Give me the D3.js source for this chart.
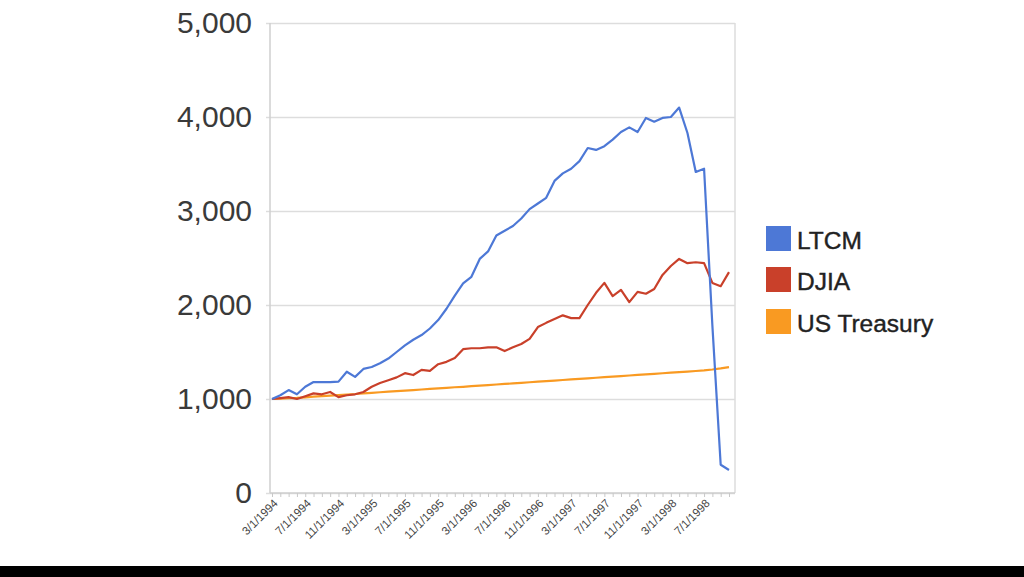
<!DOCTYPE html>
<html>
<head>
<meta charset="utf-8">
<script src="https://cdn.jsdelivr.net/npm/d3@7"></script>
<style>
  html, body { margin: 0; padding: 0; background: #ffffff; }
  svg { display: block; }
</style>
</head>
<body>
<svg id="chart" width="1024" height="577"></svg>
<script>
// ---- Data ----
const months = [
  "3/1/1994","4/1/1994","5/1/1994","6/1/1994","7/1/1994","8/1/1994","9/1/1994","10/1/1994","11/1/1994","12/1/1994",
  "1/1/1995","2/1/1995","3/1/1995","4/1/1995","5/1/1995","6/1/1995","7/1/1995","8/1/1995","9/1/1995","10/1/1995","11/1/1995","12/1/1995",
  "1/1/1996","2/1/1996","3/1/1996","4/1/1996","5/1/1996","6/1/1996","7/1/1996","8/1/1996","9/1/1996","10/1/1996","11/1/1996","12/1/1996",
  "1/1/1997","2/1/1997","3/1/1997","4/1/1997","5/1/1997","6/1/1997","7/1/1997","8/1/1997","9/1/1997","10/1/1997","11/1/1997","12/1/1997",
  "1/1/1998","2/1/1998","3/1/1998","4/1/1998","5/1/1998","6/1/1998","7/1/1998","8/1/1998","9/1/1998","10/1/1998"
];
const tickLabels = ["3/1/1994","7/1/1994","11/1/1994","3/1/1995","7/1/1995","11/1/1995","3/1/1996",
  "7/1/1996","11/1/1996","3/1/1997","7/1/1997","11/1/1997","3/1/1998","7/1/1998"];
const ltcm = [1000,1040,1095,1050,1130,1180,1180,1180,1185,1290,1235,1320,1340,1380,1430,1500,1570,1630,1680,1750,1840,1960,
  2100,2230,2300,2490,2570,2740,2790,2840,2920,3020,3080,3140,3320,3400,3450,3530,3670,3650,3690,3760,3840,3890,3840,3990,
  3950,3990,4000,4100,3830,3415,3450,1780,300,245];
const djia = [1000,1010,1020,1000,1030,1060,1050,1075,1020,1040,1050,1075,1130,1170,1200,1230,1275,1255,1310,1300,1370,1395,
  1435,1530,1540,1540,1550,1550,1510,1550,1585,1640,1765,1810,1850,1890,1860,1860,2000,2130,2235,2095,2160,2030,2140,2120,
  2170,2320,2415,2490,2445,2455,2445,2235,2200,2350];
const treasury = [1000,1005,1010,1013,1018,1025,1030,1036,1042,1048,1053,1060,1066,1072,1078,1084,1090,1095,1101,1107,1113,1119,
  1125,1130,1136,1142,1148,1154,1160,1166,1172,1178,1184,1190,1196,1202,1208,1214,1220,1226,1232,1238,1244,1250,1256,1262,
  1268,1274,1280,1286,1292,1298,1304,1314,1326,1340];
const yTicks = [0,1000,2000,3000,4000,5000];
const seriesNames = ["LTCM","DJIA","US Treasury"];
const seriesColors = ["#4d78d6","#c9402a","#f99a22"];

// ---- Layout ----
const svg = d3.select("#chart");
const plotLeft = 270, plotRight = 735, plotTop = 23, plotBottom = 493;

const x = d3.scalePoint().domain(months).range([272, 729]);
const y = d3.scaleLinear().domain([0, 5000]).range([plotBottom, plotTop]);

// gridlines
const yAxis = d3.axisLeft(y).tickValues(yTicks).tickSize(-(plotRight - plotLeft) - 4)
  .tickFormat(d3.format(","));
const gy = svg.append("g").attr("transform", `translate(${plotLeft - 4},0)`).call(yAxis);
gy.select(".domain").remove();
gy.selectAll(".tick line").attr("stroke", "#dddddd").attr("stroke-width", 1.5);
gy.selectAll(".tick text")
  .attr("x", -14)
  .attr("fill", "#3a3a3a")
  .style("font-family", "'Liberation Sans', Arial, sans-serif")
  .style("font-size", "30px");

// frame left/right/bottom
svg.append("line").attr("x1", plotLeft).attr("x2", plotLeft).attr("y1", plotTop).attr("y2", plotBottom)
  .attr("stroke", "#cfcfcf").attr("stroke-width", 1.5);
svg.append("line").attr("x1", plotRight).attr("x2", plotRight).attr("y1", plotTop).attr("y2", plotBottom)
  .attr("stroke", "#dddddd").attr("stroke-width", 1.5);
svg.append("line").attr("x1", plotLeft).attr("x2", plotRight).attr("y1", plotBottom).attr("y2", plotBottom)
  .attr("stroke", "#cfcfcf").attr("stroke-width", 1.5);

// x axis: minor ticks each month, labels every 4
const xAxis = d3.axisBottom(x).tickSize(4).tickFormat(d => tickLabels.includes(d) ? d : "");
const gx = svg.append("g").attr("transform", `translate(0,${plotBottom})`).call(xAxis);
gx.select(".domain").remove();
gx.selectAll(".tick line").attr("stroke", "#c8c8c8");
gx.selectAll(".tick text")
  .attr("fill", "#444")
  .style("font-family", "'Liberation Sans', Arial, sans-serif")
  .style("font-size", "11.5px")
  .attr("text-anchor", "end")
  .attr("y", 0).attr("dy", 0)
  .attr("transform", "translate(6,11) rotate(-45)");

// lines
const line = d3.line().x((d, i) => x(months[i])).y(d => y(d));
const allSeries = [ltcm, djia, treasury];
[2, 1, 0].forEach(k => {
  svg.append("path").datum(allSeries[k])
    .attr("d", line)
    .attr("fill", "none")
    .attr("stroke", seriesColors[k])
    .attr("stroke-width", 2.2)
    .attr("stroke-linejoin", "round");
});

// legend
const legend = svg.append("g");
const legTops = [226, 267, 309];
seriesNames.forEach((name, k) => {
  legend.append("rect").attr("x", 766).attr("y", legTops[k]).attr("width", 25).attr("height", 25)
    .attr("fill", seriesColors[k]);
  legend.append("text").attr("x", 797).attr("y", legTops[k] + 23).text(name)
    .attr("fill", "#222")
    .attr("stroke", "#222").attr("stroke-width", 0.4)
    .style("font-family", "'Liberation Sans', Arial, sans-serif")
    .style("font-size", "24.5px");
});

// black bar at bottom
svg.append("rect").attr("x", 0).attr("y", 566).attr("width", 1024).attr("height", 11).attr("fill", "#000");
</script>
</body>
</html>
